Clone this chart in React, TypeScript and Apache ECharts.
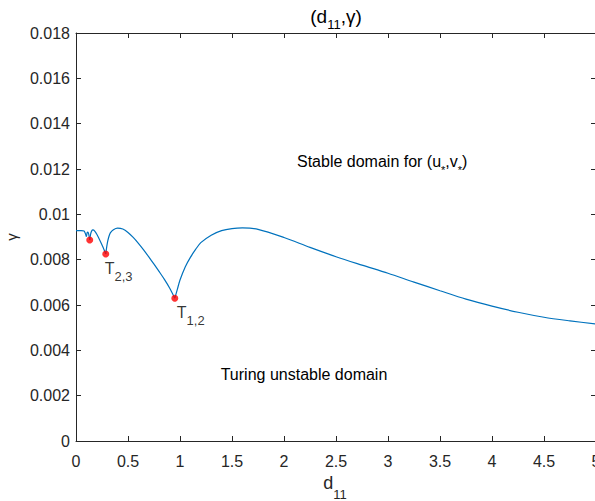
import React, { useEffect, useRef } from "react";
import * as echarts from "echarts";

const xMin = 0;
const xMax = 5;
const xStep = 0.5;
const yMin = 0;
const yMax = 0.018;
const yStep = 0.002;

// curve branches (between cusps)
const branch1 = [[0, 0.00928], [0.05, 0.00928], [0.077, 0.00926], [0.09, 0.00915], [0.1, 0.00902]];
const branch2 = [[0.1, 0.00902], [0.108, 0.0092], [0.115, 0.00922], [0.124, 0.00908], [0.132, 0.00887]];
const branch3 = [[0.132, 0.00887], [0.14, 0.00912], [0.15, 0.00926], [0.163, 0.00931], [0.18, 0.00926], [0.2, 0.00912], [0.23, 0.00885], [0.26, 0.00855], [0.286, 0.00825]];
const branch4 = [[0.286, 0.00825], [0.3, 0.0087], [0.315, 0.009], [0.33, 0.00918], [0.36, 0.00932], [0.4, 0.00939], [0.45, 0.00935], [0.5, 0.0092], [0.55, 0.00898], [0.6, 0.00872], [0.65, 0.00843], [0.7, 0.00812], [0.75, 0.0078], [0.8, 0.00747], [0.85, 0.00713], [0.9, 0.00675], [0.95, 0.0063]];
const branch5 = [[0.95, 0.0063], [0.975, 0.0067], [1.0, 0.0071], [1.05, 0.00768], [1.1, 0.0081], [1.15, 0.00845], [1.2, 0.00875], [1.3, 0.00908], [1.4, 0.00928], [1.5, 0.00937], [1.6, 0.0094], [1.75, 0.00934], [2.0, 0.00898], [2.25, 0.00854], [2.5, 0.00813], [2.75, 0.00776], [3.0, 0.0074], [3.25, 0.00701], [3.5, 0.00663], [3.75, 0.00626], [4.0, 0.00595], [4.25, 0.00568], [4.5, 0.00546], [4.75, 0.0053], [5.0, 0.00516]];

const turnX = [0.132, 0.286, 0.95];
const turnY = [0.00887, 0.00825, 0.0063];
const turnSub = ["", "2,3", "1,2"];
const turnOffsetX = [0, -1, 2];

const FONT = "'Liberation Sans', Arial, Helvetica, sans-serif";
const AX = "#262626";
const LINE = "#0072BD";

export default function App() {
  const ref = useRef<HTMLDivElement>(null);
  useEffect(() => {
    if (!ref.current) return;
    const chart = echarts.init(ref.current, null, { renderer: "svg" });
    const lineSeries = [branch1, branch2, branch3, branch4, branch5].map((b) => ({
      type: "line",
      data: b,
      smooth: 0.3,
      showSymbol: false,
      symbol: "none",
      lineStyle: { color: LINE, width: 1.2 },
      xAxisIndex: 0,
      yAxisIndex: 0,
      z: 2,
    }));
    const axisCommon = {
      axisLine: { show: true, onZero: false, lineStyle: { color: AX, width: 1 } },
      axisTick: { show: true, inside: true, length: 5, lineStyle: { color: AX } },
      splitLine: { show: false },
    };
    const option: any = {
      animation: false,
      backgroundColor: "#ffffff",
      grid: { left: 76, top: 33, width: 520, height: 408, containLabel: false, outerBoundsMode: "none" },
      xAxis: [
        {
          type: "value", min: xMin, max: xMax, interval: xStep, position: "bottom",
          ...axisCommon,
          axisLabel: {
            color: AX, fontSize: 16, fontFamily: FONT, margin: 12,
            formatter: (v: number) => String(parseFloat(v.toFixed(1))),
          },
        },
        {
          type: "value", min: xMin, max: xMax, interval: xStep, position: "top",
          ...axisCommon, axisLabel: { show: false },
        },
      ],
      yAxis: [
        {
          type: "value", min: yMin, max: yMax, interval: yStep, position: "left",
          ...axisCommon,
          name: "γ",
          nameLocation: "middle",
          nameRotate: 90,
          nameGap: 56,
          nameTextStyle: { fontSize: 15, fontFamily: FONT, color: AX },
          axisLabel: {
            color: AX, fontSize: 16, fontFamily: FONT, margin: 6,
            formatter: (v: number) => (v === 0 ? "0" : String(parseFloat(v.toFixed(3)))),
          },
        },
        {
          type: "value", min: yMin, max: yMax, interval: yStep, position: "right",
          ...axisCommon, axisLabel: { show: false },
        },
      ],
      series: [
        ...lineSeries,
        {
          type: "scatter",
          symbol: "circle",
          symbolSize: 7,
          itemStyle: { color: "#ff0000" },
          z: 5,
          data: turnX.map((x, i) => ({
            value: [x, turnY[i]],
            label: {
              show: turnSub[i] !== "",
              position: "inside",
              align: "left",
              verticalAlign: "middle",
              offset: [turnOffsetX[i], 17.5],
              formatter: "{m|T}{s|" + turnSub[i] + "}",
              rich: {
                m: { fontSize: 16, fontFamily: FONT, color: "#000", padding: [0, 0, 7, 0], verticalAlign: "bottom" },
                s: { fontSize: 13, fontFamily: FONT, color: "#000", verticalAlign: "bottom" },
              },
            },
          })),
        },
      ],
      graphic: [
        {
          type: "text", x: 336, y: 18.5,
          style: {
            text: "{m|(d}{s|11}{m|,γ)}",
            align: "center", verticalAlign: "middle",
            rich: {
              m: { fontSize: 19, fontFamily: FONT, fill: "#000", padding: [0, 0, 5, 0], verticalAlign: "bottom" },
              s: { fontSize: 13, fontFamily: FONT, fill: "#000", verticalAlign: "bottom" },
            },
          },
        },
        {
          type: "text", x: 335, y: 487,
          style: {
            text: "{m|d}{s|11}",
            align: "center", verticalAlign: "middle",
            rich: {
              m: { fontSize: 18, fontFamily: FONT, fill: AX, padding: [0, 0, 9, 0], verticalAlign: "bottom" },
              s: { fontSize: 13, fontFamily: FONT, fill: AX, verticalAlign: "bottom" },
            },
          },
        },
        {
          type: "text", x: 297, y: 164,
          style: {
            text: "{m|Stable domain for (u}{s|*}{m|,v}{s|*}{m|)}",
            align: "left", verticalAlign: "middle",
            rich: {
              m: { fontSize: 16, fontFamily: FONT, fill: "#000", padding: [0, 0, 6, 0], verticalAlign: "bottom" },
              s: { fontSize: 11, fontFamily: FONT, fill: "#000", verticalAlign: "bottom" },
            },
          },
        },
        {
          type: "text", x: 304, y: 374,
          style: {
            text: "Turing unstable domain", fontSize: 16, fontFamily: FONT, fill: "#000",
            align: "center", verticalAlign: "middle",
          },
        },
      ],
    };
    chart.setOption(option);
    return () => chart.dispose();
  }, []);
  return (
    <div
      ref={ref}
      style={{ position: "fixed", left: 0, top: 0, width: 595, height: 501, background: "#fff" }}
    />
  );
}
